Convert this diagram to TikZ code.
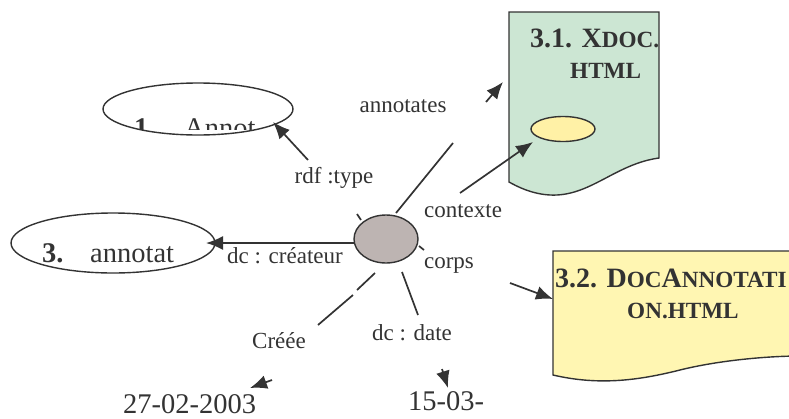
\documentclass[tikz,border=0pt]{standalone}
\usepackage{fontspec}
\setmainfont{Liberation Serif}
\usetikzlibrary{arrows.meta,shapes.geometric}

\definecolor{ink}{RGB}{51,51,51}
\definecolor{docgreen}{RGB}{204,230,211}
\definecolor{docyellow}{RGB}{255,246,178}
\definecolor{fragyellow}{RGB}{255,241,166}
\definecolor{resgray}{RGB}{189,180,178}

% small caps as Word fakes them
\newcommand\smc[1]{{\fontsize{23.2}{27}\selectfont #1}}

\begin{document}
\begin{tikzpicture}[x=1pt,y=-1pt,>={Latex[length=17pt,width=14pt]},
  wire/.style={ink,line width=1.7pt},
  oval/.style={ellipse,draw=ink,line width=1.4pt,inner sep=0pt},
  lbl/.style={ink,anchor=base,inner sep=0pt,font=\fontsize{23}{27}\selectfont},
  big/.style={ink,anchor=base west,inner sep=0pt,font=\fontsize{28.5}{33}\selectfont},
  ttl/.style={ink,anchor=base west,inner sep=0pt,font=\fontsize{28}{32}\selectfont\bfseries}]
\clip (0,0) rectangle (789,418);

% documents
\draw[ink,line width=1.4pt,fill=docgreen] (509,12) -- (659,12) -- (659,158)
  .. controls (615,164) and (590,197) .. (550,195)
  .. controls (532,194) and (518,187) .. (509,182) -- cycle;
\coordinate (xdoc) at (509,82);
\node[ttl] (xdocA) at (530,47) {3.1. X\smc{DOC.}};
\node[ttl] (xdocB) at (570,78) {\smc{HTML}};
\node[oval,fill=fragyellow,minimum width=64pt,minimum height=25pt] (frag) at (563,129) {};

\draw[ink,line width=1.4pt,fill=docyellow] (553,251) -- (800,251) -- (800,356)
  .. controls (770,356) and (720,360) .. (680,370)
  .. controls (640,380) and (600,386) .. (553,375) -- cycle;
\coordinate (docann) at (553,299);
\node[ttl] (docannA) at (555,287) {3.2. D\smc{OC}A\smc{NNOTATI}};
\node[ttl] (docannB) at (627,318) {\smc{ON.HTML}};

% ellipses
\node[oval,minimum width=190pt,minimum height=52pt] (annot) at (198,109) {};
\begin{scope}
\clip (100,80) rectangle (300,129);
\node[big,font=\fontsize{28.5}{33}\selectfont\bfseries] (annotA) at (134,137) {1.};
\node[big] (annotB) at (184,137) {Annot};
\end{scope}

\node[oval,minimum width=204pt,minimum height=60pt] (person) at (113,243) {};
\node[big,font=\fontsize{28.5}{33}\selectfont\bfseries] (personA) at (42,262) {3.};
\node[big] (personB) at (90,262) {annotat};

\node[oval,fill=resgray,minimum width=64pt,minimum height=48pt] (res) at (386,239) {};

% connectors, broken as in the source
\coordinate (typeA) at (308,160);
\coordinate (typeB) at (273,122);
\draw[wire,->] (typeA) -- (typeB);
\draw[wire] (357,214) -- (361,220);

\coordinate (annA) at (396,213);
\coordinate (annB) at (453,143);
\coordinate (annC) at (486,102);
\coordinate (annD) at (503,82);
\draw[wire] (annA) -- (annB);
\draw[wire,->] (annC) -- (annD);

\coordinate (ctxA) at (460,193);
\coordinate (ctxB) at (533,142);
\draw[wire,->] (ctxA) -- (ctxB);

\coordinate (creA) at (355,243);
\coordinate (creB) at (206,243);
\draw[wire,->] (creA) -- (creB);

\draw[wire] (419,246) -- (424,250);
\coordinate (corA) at (510,283);
\draw[wire,->] (corA) -- (docann);

\coordinate (crdA) at (375,273);
\coordinate (crdB) at (357,290);
\coordinate (crdC) at (353,295);
\coordinate (crdD) at (318,325);
\draw[wire] (crdA) -- (crdB);
\draw[wire] (crdC) -- (crdD);
\coordinate (crdE) at (272,380);
\coordinate (crdF) at (250,388);
\draw[wire,->] (crdE) -- (crdF);

\coordinate (dateA) at (402,272);
\coordinate (dateB) at (418,315);
\draw[wire] (dateA) -- (dateB);
\coordinate (dateC) at (442,369);
\coordinate (dateD) at (448,388);
\draw[wire,->] (dateC) -- (dateD);

% labels
\node[lbl] (annL) at (403,112) {annotates};
\node[lbl] (typeL) at (334,183) {rdf :type};
\node[lbl] (ctxL) at (463,217) {contexte};
\node[lbl] (creL) at (285,263) {dc : créateur};
\node[lbl] (corL) at (449,268) {corps};
\node[lbl] (crdL) at (279,348) {Créée};
\node[lbl] (dateL) at (412,340) {dc : date};
\node[big] (crdV) at (123,413) {27-02-2003};
\node[big] (dateV) at (408,410) {15-03-};
\end{tikzpicture}
\end{document}
